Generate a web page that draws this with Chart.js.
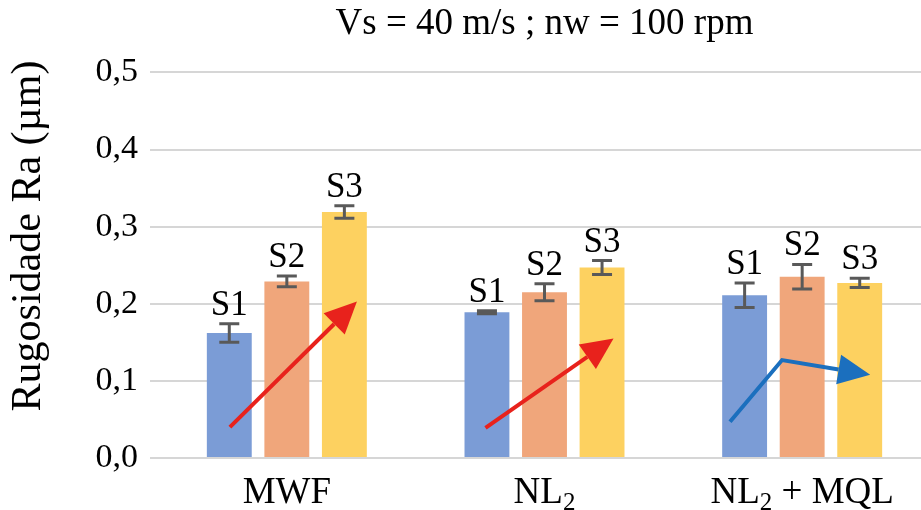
<!DOCTYPE html>
<html>
<head>
<meta charset="utf-8">
<script src="https://cdn.jsdelivr.net/npm/chart.js@4"></script>
<style>
  html, body { margin: 0; padding: 0; background: #fff; overflow: hidden; }
  #wrap { width: 921px; height: 510px; overflow: hidden; }
</style>
</head>
<body>
<div id="wrap"><canvas id="chart" width="931" height="510"></canvas></div>
<script>
const categories = ["MWF", "NL₂", "NL₂ + MQL"];
const seriesNames = ["S1", "S2", "S3"];
const s1 = [0.162, 0.189, 0.211];
const s2 = [0.229, 0.215, 0.235];
const s3 = [0.319, 0.247, 0.227];
const s1Err = [0.012, 0.002, 0.016];
const s2Err = [0.007, 0.011, 0.016];
const s3Err = [0.008, 0.009, 0.006];
const yTicks = [0, 0.1, 0.2, 0.3, 0.4, 0.5];
const titleText = "Vs = 40 m/s ; nw = 100 rpm";
const yTitleText = "Rugosidade Ra (µm)";

// trend arrows: [category position, value]
const arrowMWF = [[-0.221, 0.040], [0.272, 0.203]];
const arrowNL2 = [[0.771, 0.039], [1.268, 0.155]];
const arrowMQL = [[1.72, 0.047], [1.922, 0.127], [2.264, 0.108]];

const colors = ["#7b9cd6", "#f0a67b", "#fdd160"];
const errors = [s1Err, s2Err, s3Err];
const serif = '"Liberation Serif", "Times New Roman", serif';

function drawArrow(ctx, chart, pts, color) {
  const xs = chart.scales.x, ys = chart.scales.y;
  const p = pts.map(([c, v]) => [xs.getPixelForValue(c), ys.getPixelForValue(v)]);
  const n = p.length;
  const [tx, ty] = p[n - 1];
  const [px, py] = p[n - 2];
  const ang = Math.atan2(ty - py, tx - px);
  const headLen = 32, headW = 15;
  const bx = tx - headLen * Math.cos(ang), by = ty - headLen * Math.sin(ang);
  ctx.save();
  ctx.strokeStyle = color;
  ctx.fillStyle = color;
  ctx.lineWidth = 4;
  ctx.beginPath();
  ctx.moveTo(p[0][0], p[0][1]);
  for (let i = 1; i < n - 1; i++) ctx.lineTo(p[i][0], p[i][1]);
  ctx.lineTo(bx, by);
  ctx.stroke();
  ctx.beginPath();
  ctx.moveTo(tx, ty);
  ctx.lineTo(bx + headW * Math.sin(ang), by - headW * Math.cos(ang));
  ctx.lineTo(bx - headW * Math.sin(ang), by + headW * Math.cos(ang));
  ctx.closePath();
  ctx.fill();
  ctx.restore();
}

// category label with "₂" drawn as a real lowered subscript
function drawCategory(ctx, text, cx, baseline) {
  const parts = text.split("₂");
  const big = "37px " + serif, small = "25px " + serif;
  const pieces = [];
  parts.forEach((t, k) => {
    if (t) pieces.push({ t, font: big, dy: 0 });
    if (k < parts.length - 1) pieces.push({ t: "2", font: small, dy: 7 });
  });
  let total = 0;
  pieces.forEach(p => { ctx.font = p.font; p.w = ctx.measureText(p.t).width; total += p.w; });
  let x = cx - total / 2;
  ctx.textAlign = "left";
  ctx.textBaseline = "alphabetic";
  pieces.forEach(p => { ctx.font = p.font; ctx.fillText(p.t, x, baseline + p.dy); x += p.w; });
}

const extras = {
  id: "extras",
  afterDatasetsDraw(chart) {
    const ctx = chart.ctx;
    const xs = chart.scales.x, ys = chart.scales.y;
    chart.data.datasets.forEach((ds, i) => {
      const meta = chart.getDatasetMeta(i);
      meta.data.forEach((bar, j) => {
        const v = ds.data[j], e = errors[i][j];
        const yTop = ys.getPixelForValue(v + e);
        const yBot = ys.getPixelForValue(v - e);
        ctx.save();
        ctx.strokeStyle = "#595959";
        ctx.lineWidth = 3;
        ctx.beginPath();
        ctx.moveTo(bar.x, yTop); ctx.lineTo(bar.x, yBot);
        ctx.moveTo(bar.x - 10, yTop); ctx.lineTo(bar.x + 10, yTop);
        ctx.moveTo(bar.x - 10, yBot); ctx.lineTo(bar.x + 10, yBot);
        ctx.stroke();
        ctx.fillStyle = "#000";
        ctx.font = "35px " + serif;
        ctx.textAlign = "center";
        ctx.textBaseline = "alphabetic";
        ctx.fillText(ds.label, bar.x, yTop - 9);
        ctx.restore();
      });
    });
    drawArrow(ctx, chart, arrowMWF, "#e8221c");
    drawArrow(ctx, chart, arrowNL2, "#e8221c");
    drawArrow(ctx, chart, arrowMQL, "#1b6fbe");

    // category labels
    ctx.save();
    ctx.fillStyle = "#000";
    categories.forEach((c, j) => drawCategory(ctx, c, xs.getPixelForValue(j), ys.bottom + 45));
    ctx.restore();

    // y axis title
    ctx.save();
    ctx.translate(29, 236);
    ctx.rotate(-Math.PI / 2);
    ctx.fillStyle = "#000";
    ctx.font = "42px " + serif;
    ctx.textAlign = "center";
    ctx.textBaseline = "middle";
    ctx.fillText(yTitleText, 0, 0);
    ctx.restore();
  }
};

new Chart(document.getElementById("chart"), {
  type: "bar",
  data: {
    labels: categories,
    datasets: [
      { label: seriesNames[0], data: s1, backgroundColor: colors[0] },
      { label: seriesNames[1], data: s2, backgroundColor: colors[1] },
      { label: seriesNames[2], data: s3, backgroundColor: colors[2] },
    ],
  },
  options: {
    responsive: false,
    animation: false,
    layout: { padding: 0 },
    datasets: { bar: { barPercentage: 0.78, categoryPercentage: 0.67 } },
    plugins: {
      legend: { display: false },
      tooltip: { enabled: false },
      title: {
        display: true,
        text: titleText,
        fullSize: false,
        color: "#000",
        font: { family: serif, size: 37, weight: "normal" },
        padding: { top: 2, bottom: 26 },
      },
    },
    scales: {
      x: {
        afterFit(scale) { scale.height = 52; },
        grid: { display: false, drawTicks: false },
        border: { display: false },
        ticks: { display: false },
      },
      y: {
        min: 0,
        max: 0.5,
        afterFit(scale) { scale.width = 158; },
        afterBuildTicks(scale) { scale.ticks = yTicks.map(v => ({ value: v })); },
        border: { display: false },
        grid: { color: "#d6d6d6", lineWidth: 2, tickLength: 8 },
        ticks: {
          color: "#000",
          padding: 12,
          font: { family: serif, size: 34 },
          callback: v => v.toFixed(1).replace(".", ","),
        },
      },
    },
  },
  plugins: [extras],
});
</script>
</body>
</html>
